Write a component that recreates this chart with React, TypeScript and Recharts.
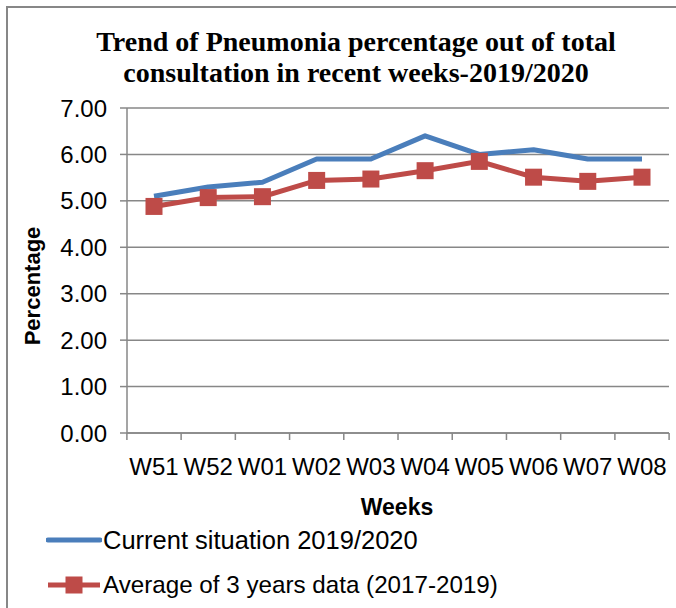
import { CartesianGrid, Line, LineChart, XAxis, YAxis } from 'recharts'

const weeks = ['W51', 'W52', 'W01', 'W02', 'W03', 'W04', 'W05', 'W06', 'W07', 'W08']
const current = [5.1, 5.3, 5.4, 5.9, 5.9, 6.4, 6.0, 6.1, 5.9, 5.9]
const average = [4.88, 5.07, 5.09, 5.44, 5.47, 5.65, 5.85, 5.51, 5.42, 5.51]
const yTicks = [0, 1, 2, 3, 4, 5, 6, 7]

const BLUE = '#4A7EBB'
const RED = '#BE4B48'
const AXIS = '#878787'
const SANS = '"Liberation Sans", Arial, sans-serif'

const data = weeks.map((week, i) => ({ week, current: current[i], average: average[i] }))

function SquareDot(props: any) {
  const { cx, cy } = props
  if (cx == null || cy == null) return null
  return <rect x={cx - 8.5} y={cy - 8.5} width={17} height={17} fill={RED} />
}

/** Category tick: label at the centre, tick mark on the band boundary (Excel style). */
function WeekTick(props: any) {
  const { x, y, payload, index, width } = props
  const half = width / (weeks.length * 2)
  const axisY = y - 25
  return (
    <g>
      <line x1={x - half} x2={x - half} y1={axisY} y2={axisY + 7} stroke={AXIS} strokeWidth={1.5} />
      {index === weeks.length - 1 && (
        <line x1={x + half} x2={x + half} y1={axisY} y2={axisY + 7} stroke={AXIS} strokeWidth={1.5} />
      )}
      <text x={x} y={y} dy="0.71em" textAnchor="middle" fill="#000" fontSize={24} fontFamily={SANS}>
        {payload.value}
      </text>
    </g>
  )
}

function App() {
  return (
    <div style={{ position: 'absolute', left: 0, top: 0, width: 676, height: 608, background: '#fff', overflow: 'hidden' }}>
      <div
        style={{
          position: 'absolute',
          left: 6,
          top: 6,
          width: 700,
          height: 640,
          borderTop: `2px solid ${AXIS}`,
          borderLeft: `2px solid ${AXIS}`,
        }}
      />
      <div
        style={{
          position: 'absolute',
          left: 0,
          top: 26,
          width: 712,
          textAlign: 'center',
          fontFamily: '"Liberation Serif", "Times New Roman", serif',
          fontWeight: 'bold',
          fontSize: 28,
          lineHeight: '31px',
          color: '#000',
        }}
      >
        Trend of Pneumonia percentage out of total
        <br />
        consultation in recent weeks-2019/2020
      </div>
      <div style={{ position: 'absolute', left: 0, top: 0 }}>
        <LineChart width={676} height={608} data={data} margin={{ top: 108, right: 7, bottom: 125, left: 0 }}>
          <CartesianGrid vertical={false} stroke={AXIS} strokeWidth={1.5} />
          <XAxis
            dataKey="week"
            height={50}
            padding={{ left: 27, right: 27 }}
            tickLine={false}
            tickSize={7}
            tickMargin={18}
            axisLine={{ stroke: AXIS, strokeWidth: 1.5 }}
            tick={<WeekTick />}
            interval={0}
          />
          <YAxis
            width={127}
            domain={[0, 7]}
            ticks={yTicks}
            tickFormatter={(v: number) => v.toFixed(2)}
            tickSize={7}
            tickMargin={13}
            axisLine={{ stroke: AXIS, strokeWidth: 1.5 }}
            tickLine={{ stroke: AXIS, strokeWidth: 1.5 }}
            tick={{ fill: '#000', fontSize: 24, fontFamily: SANS }}
            interval={0}
          />
          <Line
            dataKey="current"
            stroke={BLUE}
            strokeWidth={5}
            dot={false}
            isAnimationActive={false}
            strokeLinejoin="round"
          />
          <Line
            dataKey="average"
            stroke={RED}
            strokeWidth={5}
            dot={<SquareDot />}
            isAnimationActive={false}
          />
        </LineChart>
      </div>
      <div
        style={{
          position: 'absolute',
          left: 33,
          top: 286,
          transform: 'translate(-50%, -50%) rotate(-90deg)',
          fontFamily: SANS,
          fontWeight: 'bold',
          fontSize: 22,
          whiteSpace: 'nowrap',
        }}
      >
        Percentage
      </div>
      <div
        style={{
          position: 'absolute',
          left: 397,
          top: 507,
          transform: 'translate(-50%, -50%)',
          fontFamily: SANS,
          fontWeight: 'bold',
          fontSize: 23,
        }}
      >
        Weeks
      </div>
      <div style={{ position: 'absolute', left: 46, top: 522, fontFamily: SANS }}>
        <div style={{ display: 'flex', alignItems: 'center', height: 36, fontSize: 25.5 }}>
          <svg width={56} height={20}>
            <line x1={2} x2={54} y1={10} y2={10} stroke={BLUE} strokeWidth={5} strokeLinecap="round" />
          </svg>
          <span style={{ marginLeft: 1 }}>Current situation 2019/2020</span>
        </div>
        <div style={{ display: 'flex', alignItems: 'center', height: 36, marginTop: 9, fontSize: 24.2 }}>
          <svg width={56} height={20}>
            <line x1={2} x2={54} y1={10} y2={10} stroke={RED} strokeWidth={5} />
            <rect x={19.5} y={1.5} width={17} height={17} fill={RED} />
          </svg>
          <span style={{ marginLeft: 1 }}>Average of 3 years data (2017-2019)</span>
        </div>
      </div>
    </div>
  )
}

export default App
